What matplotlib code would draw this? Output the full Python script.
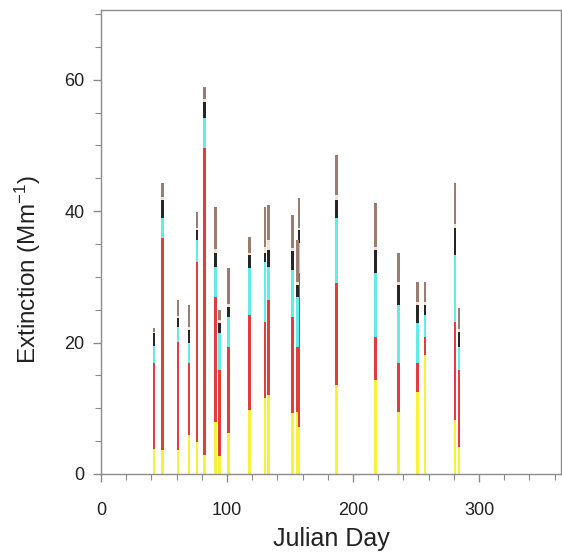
import matplotlib
matplotlib.use("Agg")
import matplotlib.pyplot as plt
import numpy as np

plt.rcParams['font.family'] = ['Liberation Sans', 'DejaVu Sans']
plt.rcParams['mathtext.default'] = 'regular'

# Julian days of each sample
days = [42, 49, 61, 70, 76, 82, 91, 94, 101, 118, 130, 133, 152, 156, 157,
        187, 218, 236, 251, 257, 281, 284]

# cumulative tops of each component
yellow_top = [3.8, 3.6, 3.6, 5.9, 4.9, 2.9, 7.9, 2.8, 6.2, 9.7, 11.5, 12.0, 9.3, 9.5, 7.1,
              13.5, 14.3, 9.4, 12.5, 18.1, 8.2, 4.1]
red_top = [16.9, 35.9, 20.1, 16.9, 32.3, 49.6, 26.9, 15.8, 19.3, 24.2, 23.1, 26.5, 23.9, 19.3, 30.6,
           29.0, 20.9, 16.9, 16.9, 20.9, 23.1, 15.8]
cyan_top = [19.4, 39.0, 22.4, 19.9, 35.6, 54.2, 31.5, 21.4, 23.9, 31.4, 32.3, 31.5, 31.0, 27.0, 35.1,
            39.0, 30.6, 25.7, 23.0, 24.2, 33.3, 19.3]
black_top = [21.4, 41.7, 23.7, 21.9, 37.1, 56.6, 33.6, 23.0, 25.4, 33.3, 33.6, 34.1, 34.0, 28.8, 37.1,
             41.7, 34.1, 28.8, 25.7, 25.7, 37.4, 21.6]
pale_top = [21.6, 42.2, 24.0, 22.3, 37.5, 57.0, 34.2, 23.4, 25.8, 33.7, 34.6, 35.6, 34.4, 29.2, 37.5,
            42.5, 34.5, 29.2, 26.1, 26.1, 38.0, 22.0]
brown_top = [22.2, 44.3, 26.5, 25.7, 39.9, 58.9, 40.6, 25.0, 31.3, 36.1, 40.7, 41.0, 39.4, 35.6, 42.0,
             48.6, 41.2, 33.6, 29.2, 29.2, 44.3, 25.3]

tops = [yellow_top, red_top, cyan_top, black_top, pale_top, brown_top]
colors = ['#f7f23a', '#e23c3c', '#62ece8', '#262626', '#f1e2cf', '#9c7b70']

fig = plt.figure(figsize=(5.62, 5.57), dpi=100)
ax = fig.add_axes([101/562, 1-474/557, 460/562, 464/557])

x = np.array(days, dtype=float)
prev = np.zeros(len(days))
for t, c in zip(tops, colors):
    t = np.array(t)
    ax.bar(x, t - prev, bottom=prev, width=2.0, color=c, linewidth=0, align='center')
    prev = t

ax.set_xlim(0, 365)
ax.set_ylim(0, 70.6)
ax.set_xticks([0, 100, 200, 300])
ax.set_xticks(np.arange(0, 366, 20), minor=True)
ax.set_yticks([0, 20, 40, 60])
ax.set_yticks(np.arange(0, 71, 5), minor=True)

for s in ax.spines.values():
    s.set_color('#8a8a8a')
    s.set_linewidth(1.0)
ax.tick_params(axis='both', which='major', direction='out', length=6, width=1.0,
               color='#8a8a8a', labelsize=13, labelcolor='#222222', pad=6)
ax.tick_params(axis='x', which='major', pad=14)
ax.tick_params(axis='both', which='minor', direction='out', length=4, width=0.8, color='#8a8a8a')

ax.set_xlabel('Julian Day', fontsize=18, color='#222222', labelpad=6)
ax.set_ylabel('Extinction (Mm$^{-1}$)', fontsize=17.5, color='#222222')
ax.yaxis.set_label_coords(-0.127, 0.44)

fig.savefig('out.png', dpi=100)
